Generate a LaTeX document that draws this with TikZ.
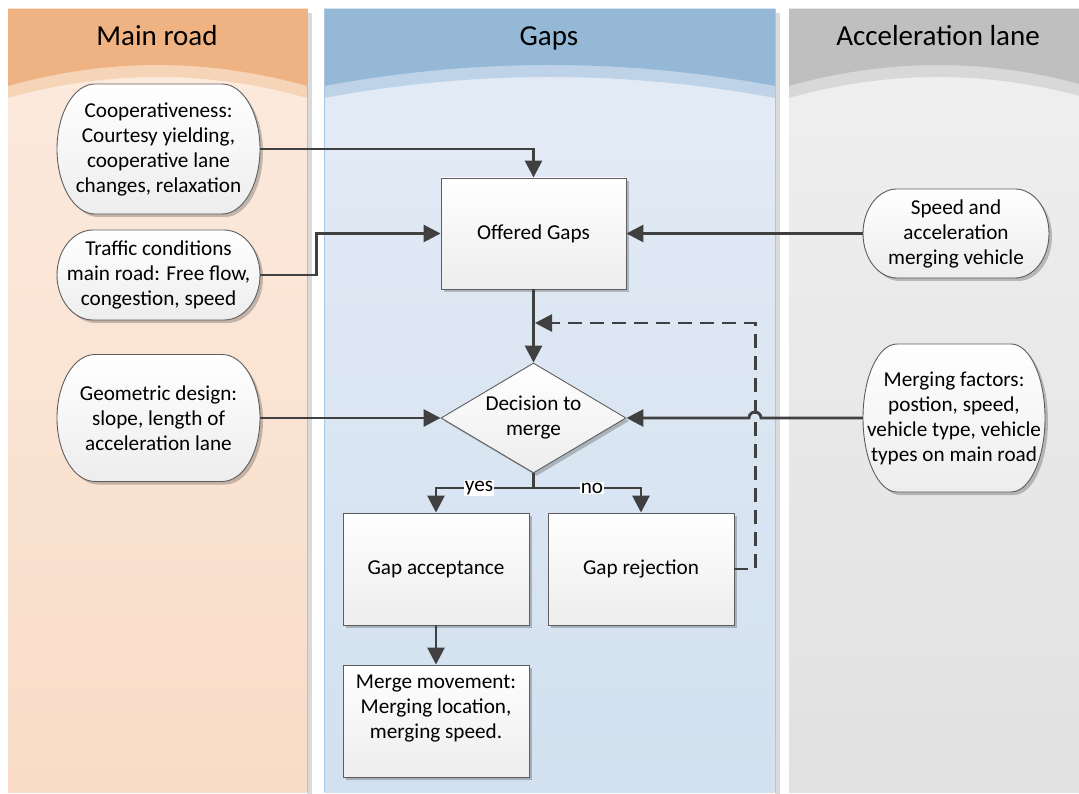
\documentclass[tikz,border=0pt]{standalone}
\usepackage{fontspec}
\setmainfont{Carlito}
\usetikzlibrary{arrows.meta,shapes.geometric,shadows,calc}
\definecolor{mhead}{HTML}{EFB383}
\definecolor{mband}{HTML}{F6D4B7}
\definecolor{mtop}{HTML}{FCEBDF}
\definecolor{mbot}{HTML}{F8DCC7}
\definecolor{mline}{HTML}{F5AE74}
\definecolor{ghead}{HTML}{95B8D7}
\definecolor{gband}{HTML}{BED3E8}
\definecolor{gtop}{HTML}{E4ECF6}
\definecolor{gbot}{HTML}{D2E0EF}
\definecolor{gline}{HTML}{A9C6E3}
\definecolor{ahead}{HTML}{BFBFBF}
\definecolor{aband}{HTML}{D8D8D8}
\definecolor{atop}{HTML}{F0F0F0}
\definecolor{abot}{HTML}{E1E1E1}
\definecolor{lshadow}{HTML}{DADADA}
\definecolor{nodeborder}{HTML}{5E5E5E}
\definecolor{nodebot}{HTML}{EDEDED}
\definecolor{conncol}{HTML}{404040}
\newcommand{\bodyfont}{\fontsize{21.2}{25}\selectfont}
\newcommand{\headfont}{\fontsize{29}{32}\selectfont}
\newcommand{\drawlane}[6]{%
  \pgfmathsetmacro{\la}{#1+(#2-#1)/3}%
  \pgfmathsetmacro{\lb}{#2-(#2-#1)/3}%
  \fill[top color=#5,bottom color=#6] (#1,9) rectangle (#2,792);
  \fill[#4] (#1,9) -- (#2,9) -- (#2,98) .. controls (\lb,70) and (\la,70) .. (#1,98) -- cycle;
  \fill[#3] (#1,9) -- (#2,9) -- (#2,86) .. controls (\lb,58) and (\la,58) .. (#1,86) -- cycle;
}
% terminator outline: centre x, centre y, width, height, end radius
\newcommand{\termpath}[5]{%
  \pgfmathsetmacro{\tl}{#1-#3/2+#5}%
  \pgfmathsetmacro{\tr}{#1+#3/2-#5}%
  \pgfmathsetmacro{\tt}{#2-#4/2}%
  \pgfmathsetmacro{\tb}{#2+#4/2}%
  \path[termshape] (\tl,\tt) -- (\tr,\tt)
    arc[start angle=-90, end angle=90, x radius=#5, y radius=#4/2]
    -- (\tl,\tb)
    arc[start angle=90, end angle=270, x radius=#5, y radius=#4/2] -- cycle;
}
\tikzset{
  conn/.style={draw=conncol, line width=2.8pt, -{Triangle[length=17pt,width=17pt]}},
  fbline/.style={conn, dash pattern=on 14pt off 8pt},
  plainline/.style={draw=conncol, line width=2.8pt},
  boxlook/.style={draw=nodeborder, line width=0.9pt, top color=white, bottom color=nodebot,
    drop shadow={shadow xshift=3pt, shadow yshift=-3pt, fill=black, opacity=0.22}},
  proc/.style={boxlook, align=center, font=\bodyfont, inner sep=0pt},
  termshape/.style={boxlook},
  termtext/.style={align=center, font=\bodyfont, inner sep=0pt},
  decide/.style={proc, shape=diamond, shape aspect=1.68, minimum width=185pt, minimum height=110pt},
  lbl/.style={fill=white, inner sep=1pt, font=\bodyfont},
  head/.style={font=\headfont, text=black, anchor=base},
}
\begin{document}
\begin{tikzpicture}[x=1pt,y=-1pt]
\useasboundingbox (0,0) rectangle (1079,794);
\fill[white] (0,0) rectangle (1079,794);
\begin{scope}
\clip (0,0) rectangle (1079,794);
% lane shadows
\fill[lshadow] (307,13) rectangle (312,794);
\fill[lshadow] (775,13) rectangle (780,794);
% lanes
\drawlane{8}{307}{mhead}{mband}{mtop}{mbot}
\drawlane{324}{775}{ghead}{gband}{gtop}{gbot}
\drawlane{789}{1087}{ahead}{aband}{atop}{abot}
\draw[mline, line width=1pt] (307,9) -- (307,792);
\draw[gline, line width=1pt] (324.5,9) -- (324.5,792);
\draw[gline, line width=1pt] (775,9) -- (775,792);
\end{scope}
\node[head] (tmain) at (157,46) {Main road};
\node[head] (tgaps) at (549,46) {Gaps};
\node[head] (tacc) at (938,46) {Acceleration lane};
% terminator shapes
\termpath{158.5}{149}{203}{130}{38}
\termpath{158.5}{275}{203}{90}{36}
\termpath{158.5}{418}{203}{127}{38}
\termpath{956}{233.5}{186}{89}{34}
\termpath{954}{418}{182}{148}{34}
% nodes
\node[termtext, minimum width=203pt, minimum height=130pt] (coop) at (158.5,149) {Cooperativeness:\\Courtesy yielding,\\cooperative lane\\changes, relaxation};
\node[termtext, minimum width=203pt, minimum height=90pt] (traffic) at (158.5,275) {Traffic conditions\\main road: Free flow,\\congestion, speed};
\node[termtext, minimum width=203pt, minimum height=127pt] (geo) at (158.5,418) {Geometric design:\\slope, length of\\acceleration lane};
\node[termtext, minimum width=186pt, minimum height=89pt] (speed) at (956,233.5) {Speed and\\acceleration\\merging vehicle};
\node[termtext, minimum width=182pt, minimum height=148pt] (mf) at (954,418) {Merging factors:\\postion, speed,\\vehicle type, vehicle\\types on main road};
\node[proc, minimum width=185pt, minimum height=111pt] (off) at (533.5,233.5) {Offered Gaps};
\node[decide] (dia) at (533.5,418) {Decision to\\merge};
\node[proc, minimum width=186pt, minimum height=112pt] (acc) at (436,569) {Gap acceptance};
\node[proc, minimum width=186pt, minimum height=112pt] (rej) at (641,569) {Gap rejection};
\node[proc, minimum width=186pt, minimum height=112pt] (mm) at (436,721) {Merge movement:\\Merging location,\\merging speed.\\[-3pt]\strut};
% connectors
\draw[conn] (coop.east) -| (off.north);
\draw[conn] (traffic.east) -- ++(56,0) |- (off.west);
\draw[conn] (speed.west) -- (off.east);
\draw[conn] (off.south) -- (dia.north);
\draw[conn] (geo.east) -- (dia.west);
\coordinate (jr) at (761,418);
\draw[conn] (mf.west) -- (jr) arc[start angle=0, end angle=-180, radius=6] -- (dia.east);
\coordinate (split) at (533.5,488);
\draw[plainline] (dia.south) -- (split);
\draw[conn] (split) -| (acc.north);
\draw[conn] (split) -| (rej.north);
\draw[conn] (acc.south) -- (mm.north);
\coordinate (fbend) at (535,323);
\draw[fbline] (rej.east) -- ++(21,0) |- (fbend);
\node[lbl] (yes) at (479,488) {yes};
\node[lbl] (no) at (592,488) {no};
\end{tikzpicture}
\end{document}
